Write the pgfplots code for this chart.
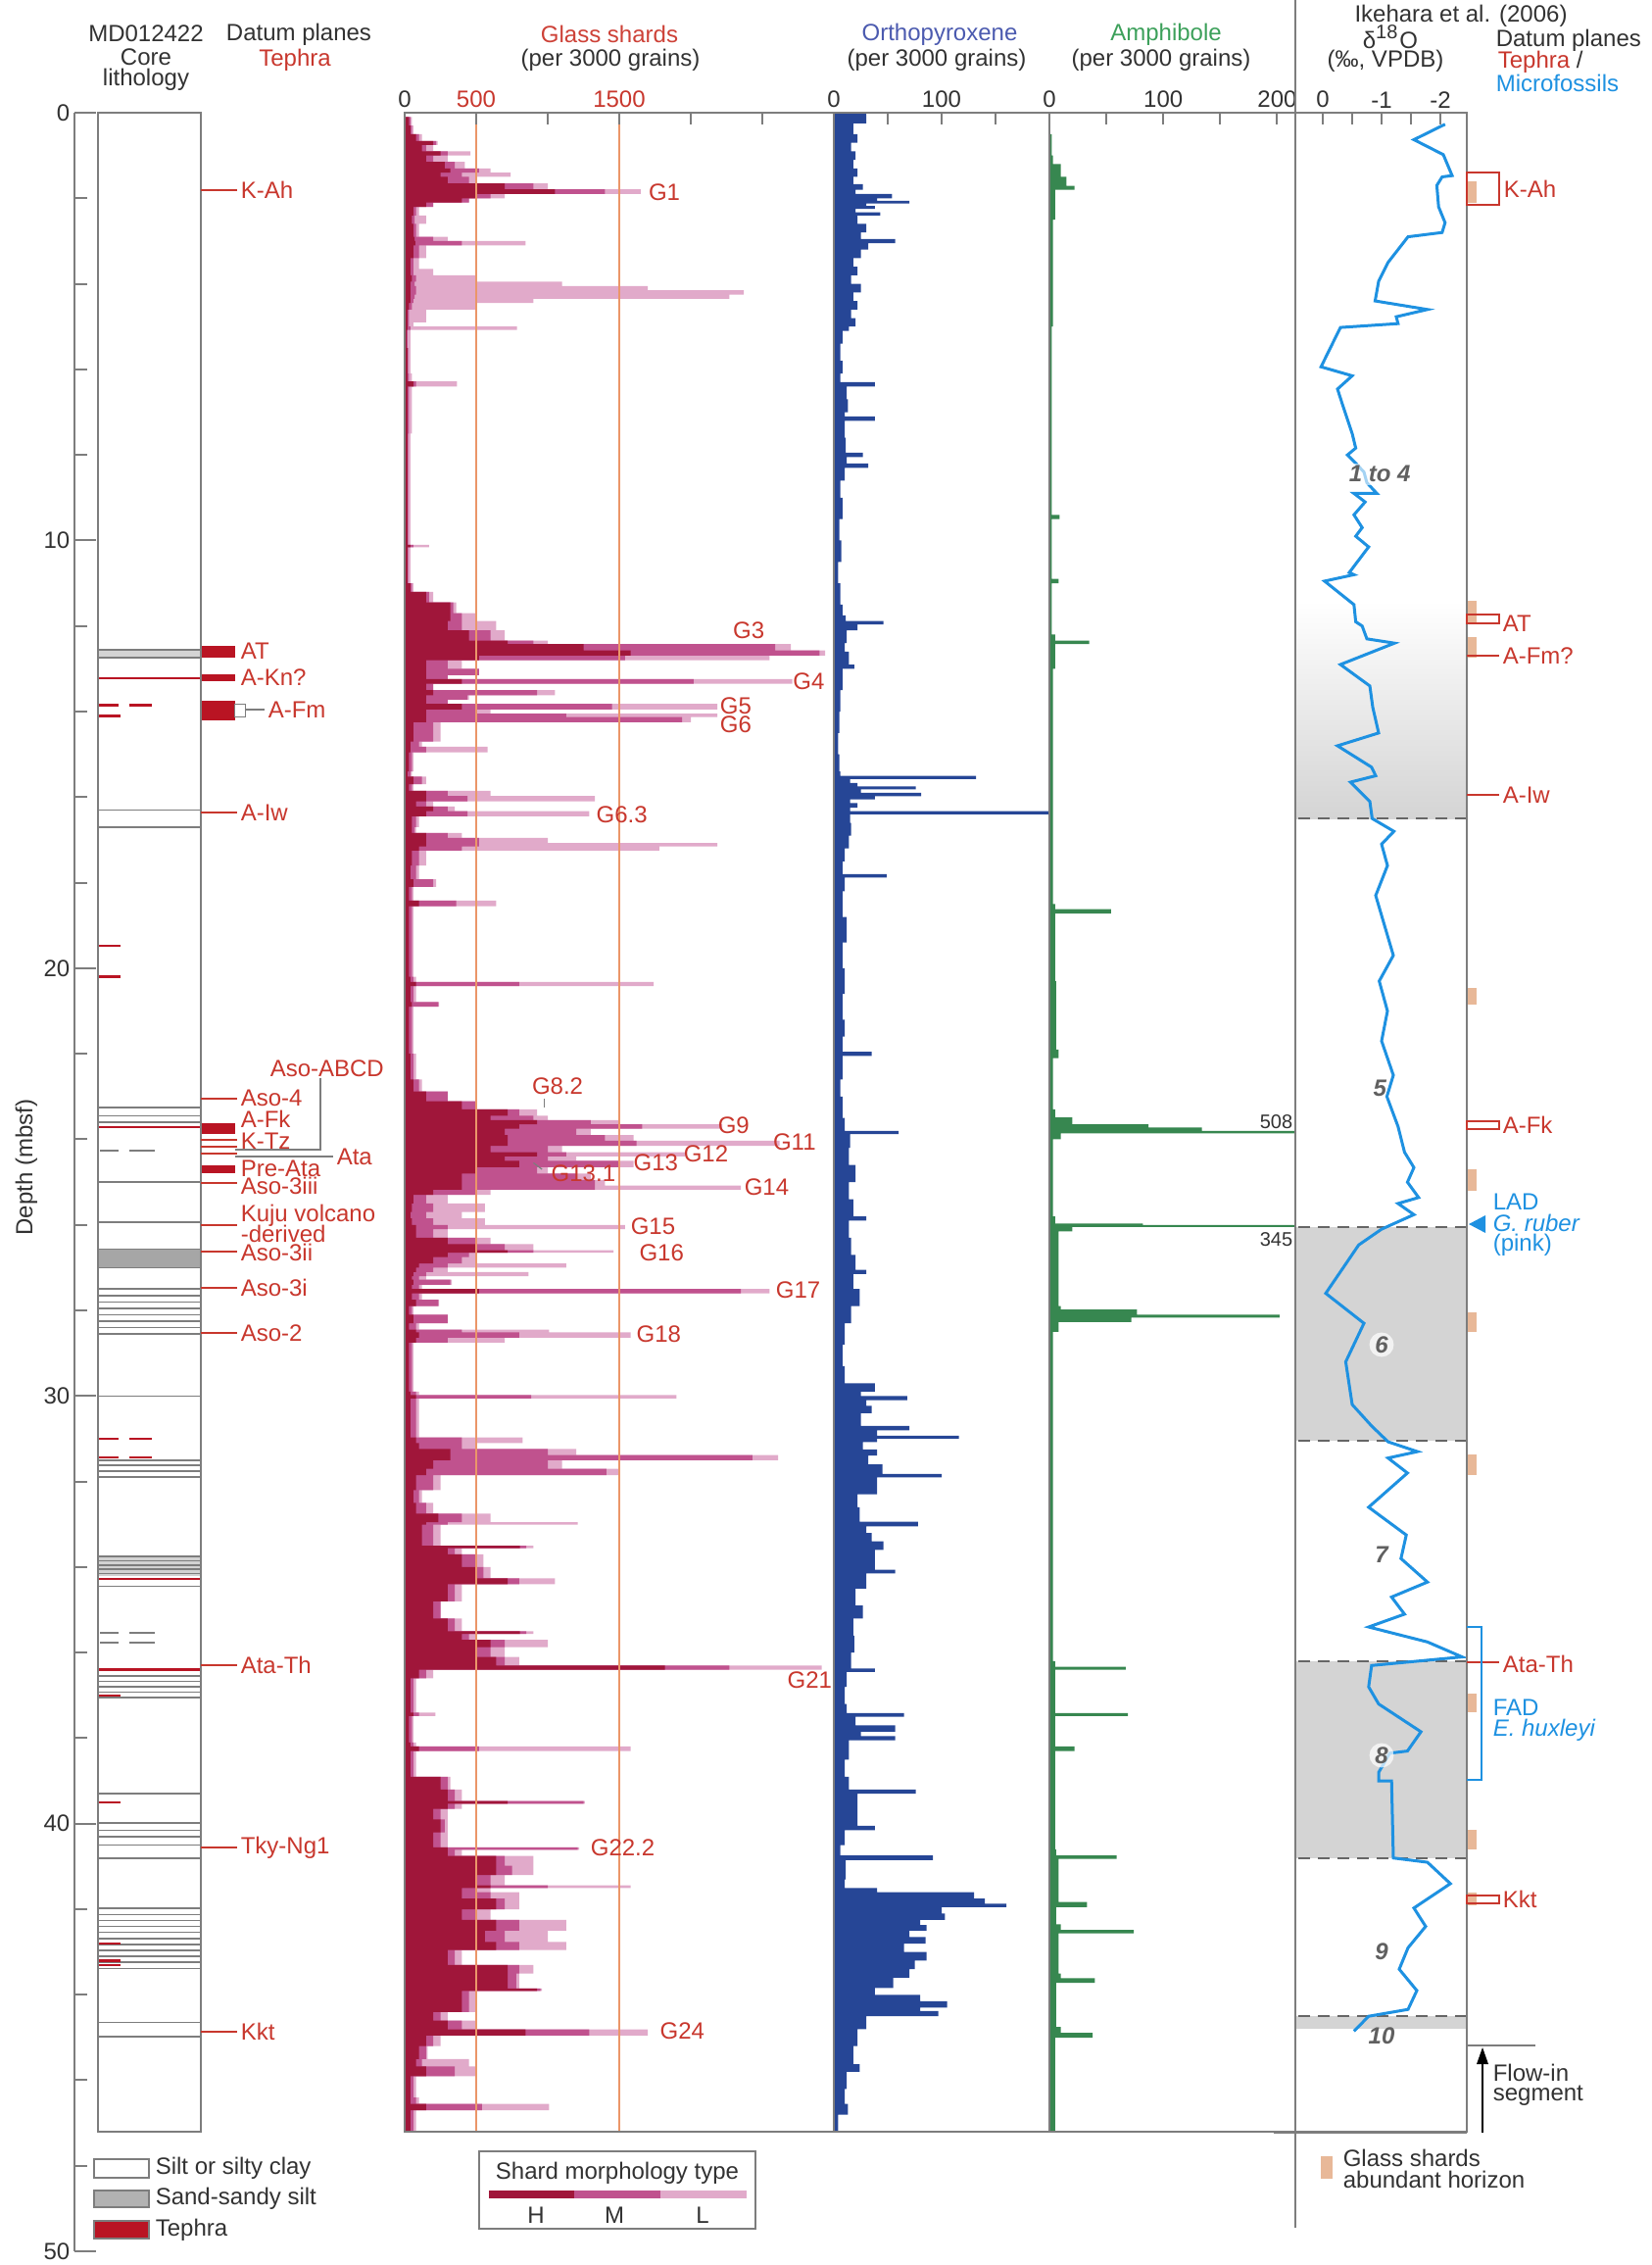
\documentclass[border=0pt]{standalone}
\usepackage{pgfplots}
\usepackage{pgfplotstable}
\pgfplotsset{compat=1.18}
\usepackage{fontspec}
\setmainfont{Liberation Sans}
\definecolor{tred}{RGB}{200,55,45}
\definecolor{tblk}{RGB}{185,20,35}
\definecolor{gH}{RGB}{160,22,58}
\definecolor{gM}{RGB}{192,82,142}
\definecolor{gL}{RGB}{225,170,202}
\definecolor{opx}{RGB}{38,70,150}
\definecolor{amp}{RGB}{55,135,80}
\definecolor{dblue}{RGB}{30,145,225}
\definecolor{tanc}{RGB}{232,184,152}
\definecolor{axg}{RGB}{125,125,125}
\definecolor{orl}{RGB}{235,150,105}
\definecolor{bandg}{RGB}{212,212,212}
\definecolor{ttlred}{RGB}{205,65,55}
\definecolor{ttlblue}{RGB}{75,90,175}
\definecolor{ttlgreen}{RGB}{60,160,90}
\definecolor{txt}{RGB}{50,50,50}
\newcommand{\ft}{\fontsize{6}{7}\selectfont}

\pgfplotstableread{
d h m t
0.00 0 0 0
0.10 30 40 50
0.30 40 50 60
0.50 80 100 120
0.66 200 220 230
0.75 120 150 200
0.90 250 300 460
1.00 150 200 300
1.15 280 350 420
1.30 320 520 600
1.40 250 400 740
1.50 300 450 500
1.65 700 900 1000
1.79 1050 1400 1650
1.90 500 600 700
2.00 400 450 450
2.10 150 200 200
2.20 60 80 100
2.40 50 70 150
2.60 60 80 100
2.90 70 200 300
3.00 75 400 845
3.10 60 100 150
3.40 40 60 100
3.65 40 60 200
3.80 50 80 500
3.95 40 70 1100
4.05 40 80 1700
4.15 40 80 2370
4.25 40 70 2270
4.35 40 60 900
4.45 30 50 500
4.60 20 30 150
4.90 20 30 60
5.00 20 40 785
5.08 15 20 40
5.50 20 25 40
6.10 20 30 50
6.28 60 80 365
6.40 20 30 50
7.50 20 25 40
9.00 20 25 40
10.10 40 60 170
10.16 20 25 40
11.00 40 50 60
11.20 150 170 200
11.45 320 340 360
11.70 320 400 500
11.88 300 400 640
12.10 450 600 700
12.34 720 900 1000
12.42 1250 2590 2700
12.57 1580 2900 2940
12.69 520 1540 2550
12.80 150 300 400
13.00 150 520 520
13.15 150 300 300
13.24 400 2020 2710
13.35 150 200 200
13.50 200 925 1050
13.62 150 440 450
13.72 150 300 300
13.82 400 1450 2185
13.95 150 500 600
14.05 150 1130 2185
14.13 150 1940 2000
14.25 60 200 250
14.50 60 200 250
14.70 40 100 120
14.82 40 150 580
14.95 30 50 60
15.40 20 40 50
15.52 60 120 150
15.70 30 50 60
15.85 150 300 600
15.97 150 440 1330
16.10 80 150 200
16.22 200 300 350
16.33 150 440 1290
16.45 50 80 100
16.70 50 70 80
16.84 150 300 400
16.95 150 520 1000
17.07 150 520 2185
17.15 100 400 1780
17.25 50 100 150
17.60 40 80 100
17.92 60 200 220
18.10 30 50 60
18.42 100 360 640
18.55 30 50 60
19.50 30 50 60
20.20 40 60 80
20.32 80 800 1740
20.42 40 60 80
20.79 50 235 240
20.90 30 50 60
22.00 40 60 80
22.60 60 100 120
22.88 150 300 300
23.11 400 500 500
23.30 720 800 925
23.45 600 900 1000
23.55 925 1300 1500
23.65 800 1660 2220
23.75 700 1200 1300
23.90 720 1400 1600
24.03 720 1620 2620
24.15 600 1000 1100
24.30 925 1130 1960
24.40 700 1000 1200
24.50 800 1500 1600
24.65 500 925 1000
24.80 400 1200 1300
24.95 400 1330 1400
25.08 400 1330 2350
25.18 200 500 600
25.30 60 150 300
25.50 50 200 560
25.70 40 150 400
25.85 50 200 560
26.00 80 300 1540
26.10 80 200 300
26.30 300 500 600
26.45 500 700 900
26.59 720 900 1460
26.65 300 450 500
26.75 200 400 500
26.90 100 300 1130
27.00 80 200 300
27.10 60 150 865
27.20 50 100 150
27.28 60 320 330
27.40 50 100 120
27.50 520 2350 2550
27.60 50 100 120
27.75 80 235 240
27.90 30 50 60
28.10 60 300 300
28.30 30 80 100
28.45 80 400 1010
28.51 100 800 1580
28.64 80 300 700
28.75 30 50 60
29.50 30 50 60
29.90 40 80 100
29.98 80 885 1900
30.06 40 80 100
30.70 40 80 100
30.97 80 400 825
31.10 100 400 500
31.24 320 1000 1200
31.38 320 2430 2610
31.50 200 1000 1100
31.70 150 1410 1500
31.85 80 200 250
32.20 60 100 120
32.50 80 150 200
32.75 235 400 600
32.95 150 300 1210
33.01 120 200 250
33.10 120 200 250
33.50 805 850 900
33.56 300 350 400
33.70 400 500 550
34.00 500 550 600
34.26 720 800 1050
34.40 300 350 400
34.80 200 250 250
35.20 300 350 400
35.50 805 850 900
35.56 400 450 500
35.70 600 700 1000
35.87 500 600 700
36.10 640 700 800
36.30 1820 2270 2915
36.40 100 150 200
36.60 40 60 80
37.40 60 100 215
37.48 30 50 60
38.10 40 60 80
38.19 100 520 1580
38.30 40 60 80
38.90 250 300 320
39.20 300 350 400
39.47 720 1250 1260
39.53 300 350 400
39.65 200 250 300
39.90 250 280 300
40.20 200 250 300
40.55 300 1210 1220
40.61 300 350 400
40.75 640 700 900
40.98 640 750 900
41.20 500 600 700
41.44 600 1000 1580
41.50 400 500 600
41.60 400 600 800
41.75 640 700 800
42.00 400 500 600
42.25 640 800 1130
42.50 560 700 1000
42.76 640 800 1130
42.95 300 350 400
43.15 300 350 400
43.30 720 800 900
43.50 720 780 800
43.85 925 950 960
43.91 400 450 500
44.00 400 450 500
44.40 200 250 300
44.60 300 400 500
44.81 845 1290 1700
44.95 150 200 250
45.20 100 150 160
45.50 80 120 450
45.67 150 350 500
45.90 40 60 80
46.40 40 80 100
46.55 150 540 1010
46.70 40 60 80
47.20 10 20 20
47.20 0 0 0
}\glass

\pgfplotstableread{
d v
0 0
0.02 30
0.12 30
0.25 18
0.5 22
0.7 16
0.9 20
1.1 18
1.3 22
1.5 18
1.67 27
1.8 20
1.9 54
2.0 40
2.06 70
2.12 30
2.18 38
2.25 20
2.33 43
2.4 22
2.6 30
2.8 25
2.95 57
3.05 32
3.2 25
3.4 18
3.6 22
3.8 16
4.0 25
4.2 18
4.4 22
4.6 16
4.8 20
5.0 14
5.1 8
5.4 6
5.8 8
6.1 6
6.3 38
6.4 12
6.7 13
7.0 10
7.1 38
7.2 10
7.6 11
7.95 27
8.05 12
8.2 32
8.3 10
8.6 6
9.0 8
9.5 5
10.0 7
10.5 4
11.0 6
11.5 8
11.75 11
11.88 46
11.96 22
12.1 12
12.4 10
12.6 14
12.9 19
13.0 8
13.5 6
14.0 5
14.5 4
15.0 5
15.4 6
15.5 132
15.58 15
15.67 22
15.75 76
15.82 25
15.9 81
15.98 38
16.05 15
16.14 22
16.25 15
16.33 205
16.4 15
16.6 16
16.9 14
17.2 10
17.5 8
17.8 49
17.88 10
18.2 8
18.8 12
19.4 8
20.0 10
20.6 8
21.2 10
21.6 8
21.95 35
22.05 8
22.6 6
23.0 8
23.5 10
23.8 60
23.88 15
24.2 14
24.6 20
25.0 14
25.4 18
25.8 30
25.9 14
26.3 16
26.7 20
27.05 30
27.15 18
27.5 24
27.9 16
28.3 10
28.8 8
29.3 10
29.7 38
29.9 25
30.0 68
30.1 30
30.23 35
30.4 25
30.7 70
30.8 40
30.93 116
31.0 40
31.08 27
31.25 40
31.39 32
31.6 45
31.82 100
31.9 40
32.0 40
32.3 22
32.6 24
32.94 78
33.05 30
33.2 35
33.4 46
33.6 38
33.9 38
34.06 57
34.15 30
34.5 20
34.9 27
35.2 18
35.6 19
36.0 16
36.37 38
36.45 12
36.8 10
37.2 12
37.41 65
37.5 20
37.7 57
37.85 25
37.95 57
38.05 14
38.5 10
38.9 14
39.2 76
39.3 22
39.7 22
40.05 38
40.15 10
40.5 6
40.74 92
40.85 11
41.3 10
41.5 40
41.6 130
41.75 140
41.87 160
41.95 100
42.1 103
42.25 80
42.37 86
42.5 70
42.65 85
42.8 65
43.0 86
43.2 75
43.4 70
43.6 55
43.84 38
44.0 80
44.15 105
44.3 80
44.38 97
44.5 30
44.8 22
45.2 18
45.62 24
45.8 12
46.2 10
46.55 13
46.8 4
47.2 3
47.2 0
}\opxdata

\pgfplotstableread{
d v
0 0
0.5 2
1.0 3
1.2 10
1.5 15
1.71 22
1.8 5
2.5 3
5 2
9.3 2
9.4 9
9.5 2
10.8 2
10.9 8
11.0 2
12.2 5
12.34 35
12.42 5
13 3
18.5 5
18.62 54
18.72 5
20.3 6
21.9 8
22.1 3
23.3 5
23.49 20
23.65 87
23.72 134
23.8 508
23.86 10
24.0 3
25.8 5
25.97 82
26.0 345
26.05 20
26.15 8
27.9 10
27.98 77
28.1 202
28.17 72
28.27 8
28.5 3
36.2 5
36.33 67
36.4 5
37.3 5
37.41 69
37.48 5
38.1 5
38.19 22
38.3 5
40.6 6
40.74 59
40.82 8
41.7 8
41.83 33
41.95 6
42.35 10
42.48 74
42.56 8
43.5 10
43.61 40
43.72 6
44.75 10
44.89 38
45.0 5
45.8 5
47.2 2
47.2 0
}\ampdata

\pgfplotsset{panel/.style={scale only axis, anchor=north west, height=515pt,
  ymin=0, ymax=47.2, y dir=reverse, ytick=\empty, axis on top,
  axis line style={axg, line width=0.5pt}, tick style={axg, line width=0.5pt},
  xtick pos=right, xticklabel pos=right, tick align=inside, major tick length=3pt,
  xticklabel style={font=\ft, inner sep=1pt, text=txt}, clip mode=individual}}

\begin{document}
\begin{tikzpicture}
\useasboundingbox (0,0) rectangle (421.25pt,-577.75pt);

% ---------- depth axis ----------
\begin{axis}[scale only axis, anchor=north west, at={(19pt,-28.75pt)}, width=1pt, height=545.5pt,
  ymin=0, ymax=50, y dir=reverse, xmin=0, xmax=1, hide x axis, axis y line*=left,
  ytick={0,10,20,30,40,50}, yticklabels={0,10,20,30,40,50},
  minor ytick={2,4,...,48}, tick align=inside, major tick length=5.5pt, minor tick length=3.2pt,
  axis line style={axg, line width=0.5pt}, tick style={axg, line width=0.5pt},
  yticklabel style={font=\ft, text=txt, inner sep=1pt}]
\addplot[draw=none] coordinates {(0,0) (0,50)};
\end{axis}

% ---------- lithology ----------
\begin{axis}[panel, at={(25pt,-28.75pt)}, width=26.25pt, xmin=0, xmax=1, xtick=\empty, clip=false]
\addplot[fill=bandg, draw=axg, line width=0.4pt] coordinates {(0,12.56) (1,12.56) (1,12.74) (0,12.74)} -- cycle;
\addplot[fill=gray!70, draw=axg, line width=0.3pt] coordinates {(0,26.56) (1,26.56) (1,27.0) (0,27.0)} -- cycle;
\addplot[fill=gray!35, draw=none] coordinates {(0,33.72) (1,33.72) (1,34.2) (0,34.2)} -- cycle;
\pgfplotsinvokeforeach{16.3,16.7,23.26,23.45,23.6,25.0,25.94,27.5,27.65,27.8,27.95,28.1,28.25,28.4,28.55,30.0,31.5,31.62,31.75,31.9,33.75,33.85,33.95,34.05,34.15,34.45,36.55,36.67,36.8,36.92,37.05,39.3,39.98,40.15,40.3,40.5,40.8,41.98,42.12,42.26,42.4,42.54,42.68,42.82,42.96,43.1,43.24,43.38,44.64,44.98}{
  \addplot[axg, line width=0.4pt] coordinates {(0,#1) (1,#1)};
}
\pgfplotsinvokeforeach{24.26,35.54,35.77}{
  \addplot[axg, line width=0.4pt] coordinates {(0.02,#1) (0.2,#1)};
  \addplot[axg, line width=0.4pt] coordinates {(0.3,#1) (0.55,#1)};
}
\pgfplotsinvokeforeach{13.22,23.72,34.28,36.4}{
  \addplot[tblk, line width=0.6pt] coordinates {(0,#1) (1,#1)};
}
\pgfplotsinvokeforeach{14.1,19.48,20.2,37.0,39.5,42.8,43.2,43.3}{
  \addplot[tblk, line width=0.6pt] coordinates {(0,#1) (0.22,#1)};
}
\pgfplotsinvokeforeach{13.85,31.0,31.44}{
  \addplot[tblk, line width=0.6pt] coordinates {(0,#1) (0.2,#1)};
  \addplot[tblk, line width=0.6pt] coordinates {(0.3,#1) (0.52,#1)};
}
% tephra blocks
\addplot[fill=tblk, draw=none] coordinates {(1,12.47) (1.33,12.47) (1.33,12.74) (1,12.74)};
\addplot[fill=tblk, draw=none] coordinates {(1,13.12) (1.33,13.12) (1.33,13.29) (1,13.29)};
\addplot[fill=tblk, draw=none] coordinates {(1,13.75) (1.33,13.75) (1.33,14.2) (1,14.2)};
\addplot[fill=tblk, draw=none] coordinates {(1,23.62) (1.33,23.62) (1.33,23.88) (1,23.88)};
\addplot[fill=tblk, draw=none] coordinates {(1,24.6) (1.33,24.6) (1.33,24.8) (1,24.8)};
\addplot[draw=axg, fill=white, line width=0.3pt] coordinates {(1.33,13.82) (1.43,13.82) (1.43,14.13) (1.33,14.13)} -- cycle;
\end{axis}

% ---------- glass shards ----------
\begin{axis}[panel, at={(103.25pt,-28.75pt)}, width=109.5pt, xmin=0, xmax=3000,
  xtick={0,500,1000,1500,2000,2500},
  xticklabels={0,\textcolor{tred}{500},,\textcolor{tred}{1500},,}]
\addplot[fill=gL, draw=none, const plot mark right] table[x=t, y=d] {\glass};
\addplot[fill=gM, draw=none, const plot mark right] table[x=m, y=d] {\glass};
\addplot[fill=gH, draw=none, const plot mark right] table[x=h, y=d] {\glass};
\addplot[orl, line width=0.35pt] coordinates {(500,0) (500,47.2)};
\addplot[orl, line width=0.35pt] coordinates {(1500,0) (1500,47.2)};
\addplot[axg, line width=0.3pt] coordinates {(975,23.05) (975,23.25)};
\addplot[axg, line width=0.3pt] coordinates {(900,24.55) (960,24.7)};
\begin{scope}[every node/.style={font=\ft, text=tred, anchor=west, inner sep=0pt}]
\node at (axis cs:1700,1.85) {G1};
\node at (axis cs:2290,12.11) {G3};
\node at (axis cs:2710,13.3) {G4};
\node at (axis cs:2200,13.86) {G5};
\node at (axis cs:2200,14.3) {G6};
\node at (axis cs:1335,16.41) {G6.3};
\node at (axis cs:885,22.76) {G8.2};
\node at (axis cs:2185,23.68) {G9};
\node at (axis cs:2570,24.06) {G11};
\node at (axis cs:1945,24.33) {G12};
\node at (axis cs:1595,24.54) {G13};
\node at (axis cs:1020,24.79) {G13.1};
\node at (axis cs:2370,25.12) {G14};
\node at (axis cs:1575,26.04) {G15};
\node at (axis cs:1635,26.65) {G16};
\node at (axis cs:2590,27.52) {G17};
\node at (axis cs:1615,28.55) {G18};
\node at (axis cs:2670,36.64) {G21};
\node at (axis cs:1295,40.55) {G22.2};
\node at (axis cs:1780,44.85) {G24};
\end{scope}
\end{axis}

% ---------- orthopyroxene ----------
\begin{axis}[panel, at={(212.75pt,-28.75pt)}, width=55pt, xmin=0, xmax=200,
  xtick={0,50,100,150}, xticklabels={0,,100,}]
\addplot[fill=opx, draw=none, const plot mark right] table[x=v, y=d] {\opxdata};
\end{axis}

% ---------- amphibole ----------
\begin{axis}[panel, at={(267.75pt,-28.75pt)}, width=62.75pt, xmin=0, xmax=216,
  xtick={0,50,100,150,200}, xticklabels={0,,100,,200}]
\addplot[fill=amp, draw=none, const plot mark right] table[x=v, y=d] {\ampdata};
\node[font=\fontsize{5}{6}\selectfont, text=txt, anchor=east, inner sep=0.5pt] at (axis cs:216,23.6) {508};
\node[font=\fontsize{5}{6}\selectfont, text=txt, anchor=east, inner sep=0.5pt] at (axis cs:216,26.35) {345};
\end{axis}

% ---------- delta18O ----------
\begin{axis}[panel, at={(330.5pt,-28.75pt)}, width=43.75pt, xmin=-2.45, xmax=0.467, x dir=reverse,
  xtick={-2,-1.5,-1,-0.5,0}, xticklabels={-2,,-1,,0}, clip=false]
\addplot[draw=none, top color=white, bottom color=bandg] coordinates {(-2.45,11.4) (0.467,11.4) (0.467,16.5) (-2.45,16.5)};
\addplot[fill=bandg, draw=none] coordinates {(-2.45,26.05) (0.467,26.05) (0.467,31.05) (-2.45,31.05)};
\addplot[fill=bandg, draw=none] coordinates {(-2.45,36.2) (0.467,36.2) (0.467,40.8) (-2.45,40.8)};
\addplot[fill=bandg, draw=none] coordinates {(-2.45,44.5) (0.467,44.5) (0.467,44.8) (-2.45,44.8)};
\pgfplotsinvokeforeach{16.5,26.05,31.05,36.2,40.8,44.5}{
  \addplot[densely dashed, gray!80!black, line width=0.45pt] coordinates {(-2.45,#1) (0.467,#1)};
}
% glass shards abundant horizons
\pgfplotsinvokeforeach{{1.6/2.1},{11.4/11.95},{12.25/12.75},{20.47/20.85},{24.7/25.2},{28.05/28.5},{31.37/31.85},{36.95/37.4},{40.15/40.6},{41.6/41.9}}{
  \foreach \a/\b in {#1}{
  \edef\tmp{\noexpand\addplot[fill=tanc, draw=none] coordinates {(-2.46,\a) (-2.62,\a) (-2.62,\b) (-2.46,\b)};}
  \tmp
  }
}
\addplot[dblue, line width=0.75pt] coordinates {
(-2.08,0.27) (-1.55,0.63) (-2.05,0.98) (-2.2,1.47) (-2.03,1.5) (-1.94,1.7) (-1.97,2.2) (-2.08,2.57) (-2.03,2.8) (-1.45,2.9) (-1.11,3.5) (-0.95,3.94) (-0.89,4.4) (-1.78,4.6) (-1.25,4.77) (-1.28,4.93) (-0.3,5.02) (0.03,5.94) (-0.5,6.15) (-0.25,6.46) (-0.33,6.8) (-0.5,7.5) (-0.56,7.84) (-0.42,8.0) (-0.53,8.15) (-0.7,8.4) (-0.75,8.65) (-0.92,8.9) (-0.53,8.9) (-0.72,9.1) (-0.53,9.4) (-0.67,9.7) (-0.56,9.9) (-0.78,10.15) (-0.45,10.75) (-0.53,10.8) (-0.03,10.95) (-0.53,11.5) (-0.56,11.9) (-0.67,12.0) (-0.75,12.3) (-1.22,12.4) (-0.3,12.9) (-0.8,13.4) (-0.85,13.9) (-0.95,14.5) (-0.25,14.8) (-0.83,15.3) (-0.9,15.5) (-0.47,15.65) (-0.8,16.1) (-0.84,16.5) (-1.21,16.8) (-1.0,17.1) (-1.1,17.6) (-0.9,18.3) (-1.05,19.0) (-1.2,19.7) (-0.96,20.3) (-1.1,21.0) (-1.0,21.7) (-1.2,22.5) (-1.09,23.0) (-1.28,23.7) (-1.39,24.3) (-1.55,24.66) (-1.44,25.0) (-1.63,25.36) (-1.28,25.5) (-1.55,25.76) (-1.0,26.1) (-0.61,26.47) (-0.05,27.6) (-0.7,28.3) (-0.39,29.2) (-0.5,30.2) (-0.83,30.7) (-1.11,31.07) (-1.61,31.3) (-1.11,31.45) (-1.44,31.8) (-0.78,32.6) (-1.42,33.25) (-1.33,33.8) (-1.78,34.35) (-1.17,34.7) (-1.39,35.1) (-0.78,35.4) (-1.78,35.75) (-2.37,36.1) (-0.83,36.3) (-0.78,36.8) (-0.95,37.2) (-1.67,37.85) (-1.44,38.3) (-1.14,38.35) (-0.95,38.8) (-0.95,39.0) (-1.17,39.0) (-1.2,40.8) (-1.78,40.9) (-2.17,41.4) (-1.55,41.97) (-1.75,42.4) (-1.45,42.9) (-1.3,43.4) (-1.6,43.9) (-1.45,44.34) (-0.78,44.5) (-0.53,44.85)};
\begin{scope}[every node/.style={font=\ft\bfseries\itshape, text=gray!75!black, inner sep=0.6pt}]
\node[fill=white, fill opacity=0.6, text opacity=1] at (axis cs:-0.97,8.45) {1 to 4};
\node at (axis cs:-0.97,22.8) {5};
\node[circle, fill=white, fill opacity=0.7, text opacity=1, inner sep=0.3pt] at (axis cs:-1.0,28.8) {6};
\node at (axis cs:-1.0,33.7) {7};
\node[circle, fill=white, fill opacity=0.7, text opacity=1, inner sep=0.3pt] at (axis cs:-1.0,38.4) {8};
\node at (axis cs:-1.0,43.0) {9};
\node at (axis cs:-1.0,44.95) {10};
\end{scope}
\end{axis}

% ---------- annotations ----------
\begin{scope}[x=0.25pt, y=-0.25pt, every node/.style={font=\ft, inner sep=0pt, text=txt}]
% headers
\node at (149,34) {MD012422};
\node at (149,58) {Core};
\node at (149,81) {lithology};
\node at (305,35) {Datum planes};
\node[text=tred] at (301,61) {Tephra};
\node[text=ttlred] at (622,35) {Glass shards};
\node at (623,61) {(per 3000 grains)};
\node[text=ttlblue] at (959,35) {Orthopyroxene};
\node at (956,61) {(per 3000 grains)};
\node[text=ttlgreen] at (1190,35) {Amphibole};
\node at (1185,61) {(per 3000 grains)};
\node at (1491,16) {Ikehara et al. (2006)};
\node at (1419,38) {δ\textsuperscript{18}O};
\node at (1414,62) {(‰, VPDB)};
\node[anchor=west] at (1526,41) {Datum planes};
\node[anchor=west] at (1528,63) {\textcolor{tred}{Tephra} /};
\node[anchor=west, text=dblue] at (1526,85) {Microfossils};
\node[rotate=90] at (27,1191) {Depth (mbsf)};
% long separators
\draw[axg, line width=0.5pt] (1322,0) -- (1322,2273);
\draw[axg, line width=0.5pt] (1300,2176) -- (1497,2176);
% left tephra labels
\begin{scope}[every node/.style={font=\ft, inner sep=0pt, text=tred, anchor=west}]
\node at (245,194) {K-Ah};
\node at (245,664) {AT};
\node at (245,691) {A-Kn?};
\node at (273,724) {A-Fm};
\node at (245,829) {A-Iw};
\node at (275,1090) {Aso-ABCD};
\node at (245,1120) {Aso-4};
\node at (245,1142) {A-Fk};
\node at (245,1164) {K-Tz};
\node at (343,1180) {Ata};
\node at (245,1192) {Pre-Ata};
\node at (245,1210) {Aso-3iii};
\node at (245,1240) {Kuju volcano};
\node at (245,1259) {-derived};
\node at (245,1278) {Aso-3ii};
\node at (245,1314) {Aso-3i};
\node at (245,1360) {Aso-2};
\node at (245,1699) {Ata-Th};
\node at (245,1885) {Tky-Ng1};
\node at (245,2073) {Kkt};
\end{scope}
\foreach \yy in {194,829,1121,1163,1170,1177,1207,1250,1277,1314,1360,1699,1885,2073}{
  \draw[tred, line width=0.3pt] (205,\yy) -- (242,\yy);
}
\draw[axg, line width=0.3pt] (250,724) -- (270,724);
\draw[axg, line width=0.3pt] (327,1100) -- (327,1173) -- (240,1173);
\draw[axg, line width=0.3pt] (240,1180) -- (340,1180);
% right datum labels
\draw[tred, line width=0.4pt] (1497,176) rectangle (1530,209);
\draw[tred, line width=0.4pt] (1497,627) rectangle (1530,636);
\draw[tred, line width=0.4pt] (1497,669) -- (1530,669);
\draw[tred, line width=0.4pt] (1497,811) -- (1530,811);
\draw[tred, line width=0.4pt] (1497,1144) rectangle (1530,1152);
\draw[tred, line width=0.4pt] (1497,1696) -- (1530,1696);
\draw[tred, line width=0.4pt] (1497,1934) rectangle (1530,1942);
\begin{scope}[every node/.style={font=\ft, inner sep=0pt, text=tred, anchor=west}]
\node at (1534,193) {K-Ah};
\node at (1533,636) {AT};
\node at (1533,669) {A-Fm?};
\node at (1533,811) {A-Iw};
\node at (1533,1148) {A-Fk};
\node at (1533,1698) {Ata-Th};
\node at (1533,1938) {Kkt};
\end{scope}
\fill[dblue] (1499,1249) -- (1516,1240) -- (1516,1258) -- cycle;
\node[anchor=west, text=dblue] at (1523,1226) {LAD};
\node[anchor=west, text=dblue] at (1523,1248) {\itshape G. ruber};
\node[anchor=west, text=dblue] at (1523,1270) {(pink)};
\draw[dblue, line width=0.4pt] (1497,1660) -- (1512,1660) -- (1512,1816) -- (1497,1816);
\node[anchor=west, text=dblue] at (1523,1742) {FAD};
\node[anchor=west, text=dblue] at (1523,1765) {\itshape E. huxleyi};
% flow-in segment
\draw[axg, line width=0.4pt] (1497,2087) -- (1567,2087);
\draw[black, line width=0.4pt] (1513,2176) -- (1513,2105);
\fill[black] (1513,2089) -- (1507,2106) -- (1519,2106) -- cycle;
\node[anchor=west] at (1523,2115) {Flow-in};
\node[anchor=west] at (1523,2138) {segment};
% glass horizon legend
\fill[tanc] (1348,2200) rectangle (1360,2223);
\node[anchor=west] at (1370,2202) {Glass shards};
\node[anchor=west] at (1370,2224) {abundant horizon};
% lithology legend
\draw[axg, fill=white, line width=0.4pt] (96,2203) rectangle (152,2222);
\draw[axg, fill=gray!60, line width=0.4pt] (96,2235) rectangle (152,2252);
\draw[axg, fill=tblk, line width=0.4pt] (96,2266) rectangle (152,2284);
\node[anchor=west] at (158,2212) {Silt or silty clay};
\node[anchor=west] at (158,2243) {Sand-sandy silt};
\node[anchor=west] at (158,2275) {Tephra};
% shard morphology legend
\draw[axg, line width=0.5pt] (489,2195) rectangle (771,2274);
\node at (630,2217) {Shard morphology type};
\fill[gH] (499,2235) rectangle (586,2243);
\fill[gM] (586,2235) rectangle (674,2243);
\fill[gL] (674,2235) rectangle (762,2243);
\node at (547,2260) {H};
\node at (627,2260) {M};
\node at (717,2260) {L};
\end{scope}
\end{tikzpicture}
\end{document}
